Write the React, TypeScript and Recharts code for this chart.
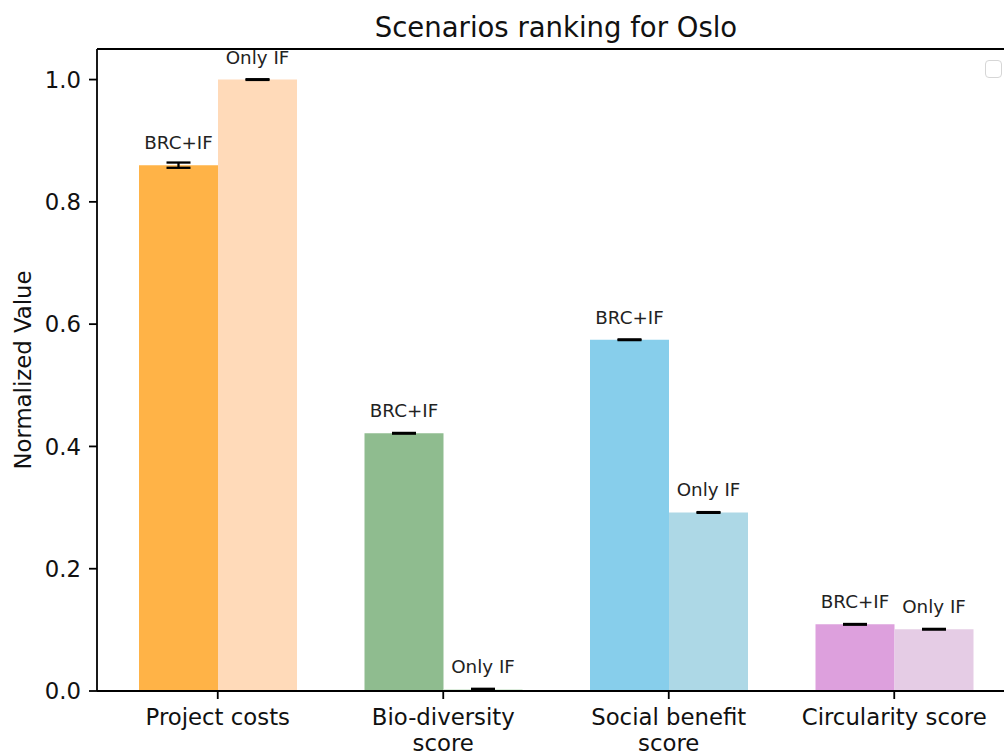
import React from 'react';
import { BarChart, Bar, XAxis, YAxis, ErrorBar, LabelList, Cell, ReferenceLine } from 'recharts';

const categories = ['Project costs', 'Bio-diversity\nscore', 'Social benefit\nscore', 'Circularity score'];
const seriesNames = ['BRC+IF', 'Only IF'];
const brcValues = [0.86, 0.4215, 0.5745, 0.109];
const brcErrors = [0.0043, 0.0006, 0.0006, 0.0006];
const onlyIfValues = [1.0, 0.003, 0.292, 0.101];
const onlyIfErrors = [0.0006, 0.0006, 0.0006, 0.0006];
const brcColors = ['#FFB347', '#8FBC8F', '#87CEEB', '#DDA0DD'];
const onlyIfColors = ['#FFDAB9', '#D0E6D0', '#ADD8E6', '#E5CCE5'];
const yTicks = [0, 0.2, 0.4, 0.6, 0.8, 1.0];
const yDomainMax = 1.05;
const title = 'Scenarios ranking for Oslo';
const yLabel = 'Normalized Value';

const data = categories.map((name, i) => ({
  name,
  brc: brcValues[i],
  brcErr: brcErrors[i],
  onlyIf: onlyIfValues[i],
  onlyIfErr: onlyIfErrors[i],
}));

const FONT = '"DejaVu Sans", sans-serif';
const AXIS = '#000';

const XTick = (props: any) => {
  const { x, y, payload } = props;
  const lines = String(payload.value).split('\n');
  return (
    <g>
      {lines.map((ln: string, i: number) => (
        <text key={i} x={x} y={y + 18 + i * 26} textAnchor="middle" fontFamily={FONT} fontSize={22.8} fill="#111">
          {ln}
        </text>
      ))}
    </g>
  );
};

const YLabel = (props: any) => {
  const vb = props.viewBox || { x: 0, y: 49, width: 97, height: 642 };
  const cx = vb.x + 23;
  const cy = vb.y + vb.height / 2;
  return (
    <text x={cx} y={cy} transform={`rotate(-90 ${cx} ${cy})`} textAnchor="middle" dominantBaseline="central" fontFamily={FONT} fontSize={22.8} fill="#111">
      {yLabel}
    </text>
  );
};

export default function App() {
  return (
    <div style={{ position: 'absolute', left: 0, top: 0, width: 1004, height: 753, overflow: 'hidden', background: '#fff' }}>
      <div style={{ position: 'absolute', left: 0, top: 10.5, width: 1112, textAlign: 'center', fontFamily: FONT, fontSize: 27.5, lineHeight: '32px', color: '#111', whiteSpace: 'nowrap' }}>
        {title}
      </div>
      <div style={{ position: 'absolute', left: 985, top: 60, width: 15, height: 16, border: '1.5px solid #d6d6d6', borderRadius: 4 }} />
      <BarChart
        width={1020}
        height={753}
        data={data}
        margin={{ top: 49, right: 5, bottom: 0, left: 0 }}
        barGap={0}
        barSize={79}
      >
        <XAxis
          dataKey="name"
          height={62}
          padding={{ left: 8, right: 8 }}
          interval={0}
          tickSize={8}
          tickMargin={8}
          axisLine={{ stroke: AXIS, strokeWidth: 1.8 }}
          tickLine={{ stroke: AXIS, strokeWidth: 1.8 }}
          tick={<XTick />}
        />
        <YAxis
          width={97}
          domain={[0, yDomainMax]}
          ticks={yTicks}
          allowDataOverflow
          tickFormatter={(v: number) => v.toFixed(1)}
          tickSize={8}
          tickMargin={8}
          axisLine={{ stroke: AXIS, strokeWidth: 1.8 }}
          tickLine={{ stroke: AXIS, strokeWidth: 1.8 }}
          tick={{ fontFamily: FONT, fontSize: 22.8, fill: '#111' }}
          label={{ content: <YLabel /> }}
        />
        <ReferenceLine y={yDomainMax} stroke={AXIS} strokeWidth={1.8} ifOverflow="visible" />
        <Bar dataKey="brc" isAnimationActive={false}>
          {data.map((_, i) => (
            <Cell key={i} fill={brcColors[i]} />
          ))}
          <ErrorBar dataKey="brcErr" width={12} stroke="#000" strokeWidth={2.3} isAnimationActive={false} />
          <LabelList
            dataKey="brc"
            position="top"
            offset={16}
            formatter={() => seriesNames[0]}
            style={{ fontFamily: FONT, fontSize: 18.3, fill: '#222' }}
          />
        </Bar>
        <Bar dataKey="onlyIf" isAnimationActive={false}>
          {data.map((_, i) => (
            <Cell key={i} fill={onlyIfColors[i]} />
          ))}
          <ErrorBar dataKey="onlyIfErr" width={12} stroke="#000" strokeWidth={2.3} isAnimationActive={false} />
          <LabelList
            dataKey="onlyIf"
            position="top"
            offset={16}
            formatter={() => seriesNames[1]}
            style={{ fontFamily: FONT, fontSize: 18.3, fill: '#222' }}
          />
        </Bar>
      </BarChart>
    </div>
  );
}
